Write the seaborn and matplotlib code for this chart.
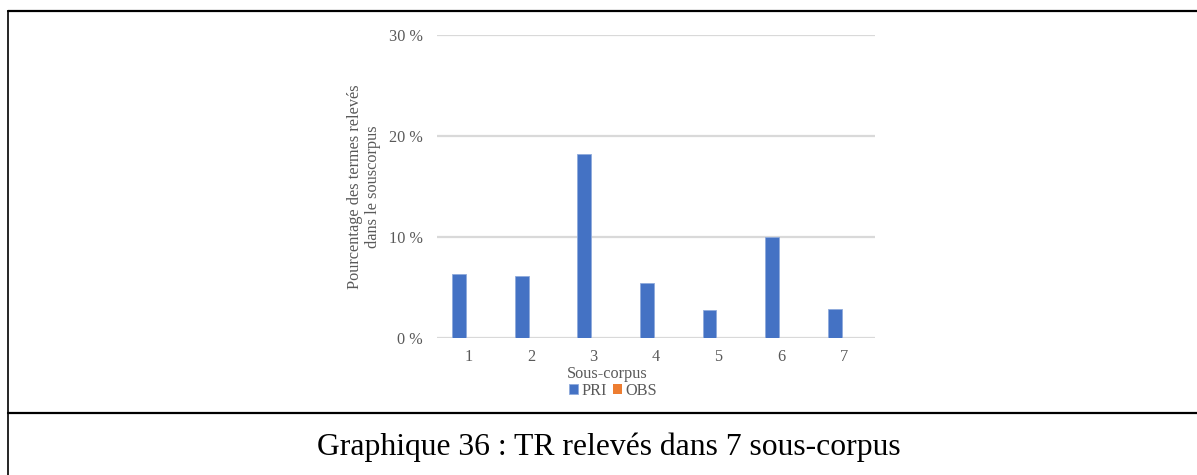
import matplotlib
matplotlib.use("Agg")
import matplotlib.pyplot as plt
from matplotlib.lines import Line2D
import seaborn as sns
import pandas as pd

categories = ["1", "2", "3", "4", "5", "6", "7"]
series_names = ["PRI", "OBS"]
pri_values = [6.3, 6.1, 18.2, 5.4, 2.7, 10.0, 2.8]
obs_values = [0, 0, 0, 0, 0, 0, 0]
y_ticks = [0, 10, 20, 30]
y_tick_labels = ["0 %", "10 %", "20 %", "30 %"]
colors = ["#4472C4", "#ED7D31"]

df = pd.DataFrame({
    "cat": categories * 2,
    "val": pri_values + obs_values,
    "serie": [series_names[0]] * len(categories) + [series_names[1]] * len(categories),
})

sns.set_theme(style="white")
plt.rcParams["font.family"] = ["Liberation Serif", "DejaVu Serif"]

FS = 11.7
W, H = 1197, 475
fig = plt.figure(figsize=(W / 100, H / 100), dpi=100)
ax = fig.add_axes([437 / W, 1 - 337.7 / H, (875 - 437) / W, (337.7 - 35) / H])

sns.barplot(data=df, x="cat", y="val", hue="serie", order=categories,
            hue_order=series_names, palette=colors, width=0.58, gap=0.23,
            saturation=1, ax=ax, legend=False, edgecolor="#8faadc", linewidth=0.6)
for p in ax.containers[1]:
    p.set_linewidth(0)

ax.set_ylim(0, 30)
ax.set_xlim(-0.5, 6.5)
ax.set_yticks(y_ticks)
ax.set_yticklabels(y_tick_labels)
ax.yaxis.grid(True, color="#d9d9d9", linewidth=1.6)
ax.set_axisbelow(True)
for s in ax.spines.values():
    s.set_visible(False)
ax.tick_params(axis="both", length=0, labelsize=FS, labelcolor="#595959")
ax.tick_params(axis="y", pad=10.5)
ax.tick_params(axis="x", pad=8)

ax.set_xlabel("Sous-corpus", fontsize=FS, color="#595959", labelpad=0)
ax.xaxis.set_label_coords((607 - 437) / 438, -(374.5 - 337.7) / 302.7)
ax.xaxis.label.set_va("center")
ax.set_ylabel("Pourcentage des termes relevés\ndans le souscorpus", fontsize=FS,
              color="#595959", linespacing=1.2)
ax.yaxis.set_label_coords((364 - 437) / 438, 0.5)
ax.yaxis.label.set_va("center")

fig.legend(handles=[ax.containers[0], ax.containers[1]], labels=series_names,
           loc="center", bbox_to_anchor=(613 / W, 1 - 391 / H), ncol=2,
           frameon=False, fontsize=FS, handlelength=0.55, handleheight=0.55,
           handletextpad=0.2, columnspacing=0.35, labelcolor="#595959",
           borderpad=0)

fig.text(609 / W, 1 - 447 / H, "Graphique 36 : TR relevés dans 7 sous-corpus",
         ha="center", va="center", fontsize=22.8, color="black")

# document frame lines
fig.add_artist(Line2D([7.5 / W, 7.5 / W], [0, 1 - 11 / H], color="black", linewidth=1.2, transform=fig.transFigure))
fig.add_artist(Line2D([7.5 / W, 1], [1 - 11 / H, 1 - 11 / H], color="black", linewidth=1.6, transform=fig.transFigure))
fig.add_artist(Line2D([7.5 / W, 1], [1 - 412.5 / H, 1 - 412.5 / H], color="black", linewidth=1.6, transform=fig.transFigure))

fig.savefig("out.png", dpi=100, facecolor="white")
